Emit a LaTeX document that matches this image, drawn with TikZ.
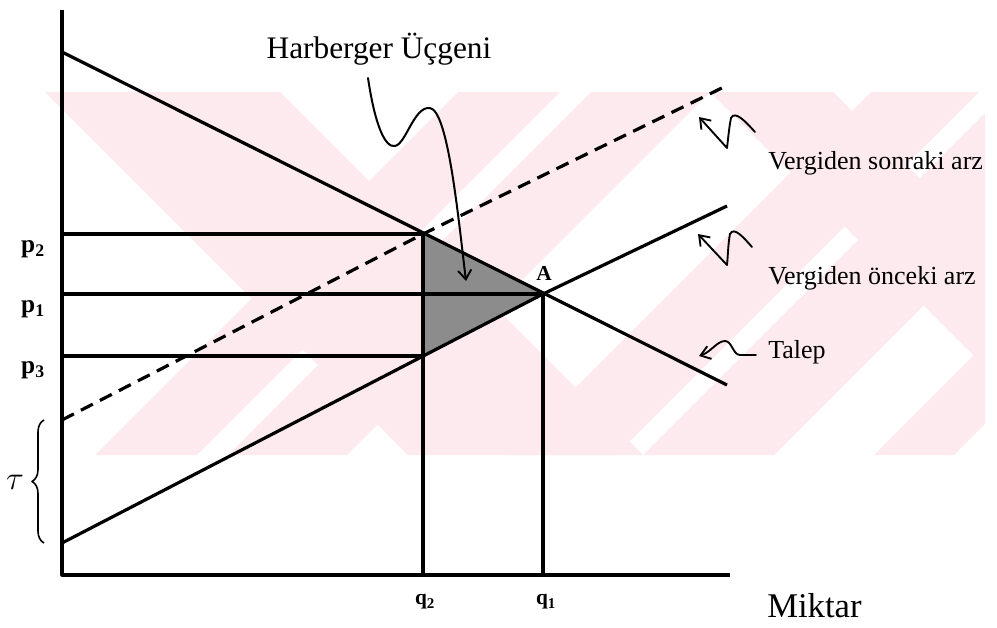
\documentclass[tikz,border=0pt]{standalone}
\usepackage{fontspec}
\setmainfont{Liberation Serif}
\usetikzlibrary{arrows.meta,decorations.pathreplacing}
\definecolor{wm}{RGB}{253,234,238}
\begin{document}
\begin{tikzpicture}[x=0.75pt,y=-0.75pt,line join=round,
  mainline/.style={line width=2.4pt},
  taxline/.style={line width=2.4pt,dash pattern=on 10pt off 6pt},
  note/.style={line width=1.4pt,line cap=round,-{Straight Barb[length=7pt,width=10pt,line width=1.4pt]}},
  lbl/.style={font=\fontsize{19.5}{22}\selectfont,inner sep=0pt},
  plbl/.style={font=\fontsize{19}{21}\selectfont\bfseries,inner sep=0pt},
  qlbl/.style={font=\fontsize{16}{18}\selectfont\bfseries,inner sep=0pt}]
\useasboundingbox (0,0) rectangle (997,628);
% faint watermark
\begin{scope}
\clip (45,92) rectangle (985,455);
\fill[wm] (45,92) -- (280,92) -- (643,455) -- (408,455) -- cycle;
\fill[wm] (710,92) -- (833,92) -- (1196,455) -- (1073,455) -- cycle;
\fill[wm] (458,92) -- (560,92) -- (197,455) -- (95,455) -- cycle;
\fill[wm] (591,92) -- (710,92) -- (347,455) -- (228,455) -- cycle;
\fill[wm] (871,92) -- (979,92) -- (616,455) -- (508,455) -- cycle;
\fill[wm] (1006,92) -- (1137,92) -- (774,455) -- (643,455) -- cycle;
\fill[wm] (1237,92) -- (1317,92) -- (954,455) -- (874,455) -- cycle;
\end{scope}
% key points
\coordinate (O) at (62,575);
\coordinate (Ytop) at (62,10);
\coordinate (Xend) at (730,575);
\coordinate (D0) at (62,52);
\coordinate (D1) at (727,385);
\coordinate (S0) at (62,543);
\coordinate (S1) at (727,206);
\coordinate (T0) at (62,420);
\coordinate (T1) at (728,85);
\coordinate (E2) at (423,234);
\coordinate (A) at (543,294);
\coordinate (E3) at (423,356);
\coordinate (P2) at (62,234);
\coordinate (P1) at (62,294);
\coordinate (P3) at (62,356);
\coordinate (Q2) at (423,575);
\coordinate (Q1) at (543,575);
% Harberger triangle
\fill[black!45] (E2) -- (A) -- (E3) -- cycle;
% axes
\draw[mainline] (Ytop) -- (O) -- (Xend);
% price and quantity guides
\draw[mainline] (P2) -- (E2);
\draw[mainline] (P1) -- (A);
\draw[mainline] (P3) -- (E3);
\draw[mainline] (E2) -- (Q2);
\draw[mainline] (A) -- (Q1);
% curves
\draw[mainline] (D0) -- (D1);
\draw[mainline] (S0) -- (A) -- (S1);
\draw[taxline] (T0) -- (E2) -- (T1);
% tau brace
\coordinate (Bb) at (44,543);
\coordinate (Bt) at (44,420);
\draw[line width=1.2pt,decorate,decoration={brace,amplitude=9pt}] (Bb) -- (Bt);
\node[inner sep=0pt,font=\fontsize{24}{24}\selectfont] (tau) at (15,482) {$\tau$};
% labels
\node[plbl] (lp2) at (33,249) {p\textsubscript{2}};
\node[plbl] (lp1) at (33,309) {p\textsubscript{1}};
\node[plbl] (lp3) at (33,370) {p\textsubscript{3}};
\node[qlbl] (lq2) at (425,602) {q\textsubscript{2}};
\node[qlbl] (lq1) at (546,602) {q\textsubscript{1}};
\node[inner sep=0pt,font=\fontsize{16}{18}\selectfont\bfseries] (lA) at (544,273) {A};
\node[inner sep=0pt,font=\fontsize{23.5}{26}\selectfont] (lh) at (379,49) {Harberger Üçgeni};
\node[lbl,anchor=west] (ls) at (768,163) {Vergiden sonraki arz};
\node[lbl,anchor=west] (lo) at (768,278) {Vergiden önceki arz};
\node[lbl,anchor=west] (lt) at (768,352) {Talep};
\node[inner sep=0pt,anchor=west,font=\fontsize{26}{28}\selectfont] (lm) at (767,606) {Miktar};
% annotation arrows
\coordinate (h0) at (368,78);
\coordinate (h1) at (466,281);
\draw[note,line width=1.5pt] (h0) .. controls (375,125) and (385,148) .. (395,146)
  .. controls (406,144) and (414,106) .. (430,108)
  .. controls (448,111) and (458,215) .. (h1);
\coordinate (s0) at (755,132);
\coordinate (s1) at (699,117);
\draw[note] (s0) .. controls (746,122) and (735,110) .. (731,118)
  .. controls (729,128) and (728,140) .. (727,148) -- (s1);
\coordinate (o0) at (752,247);
\coordinate (o1) at (698,234);
\draw[note] (o0) .. controls (744,238) and (734,226) .. (730,234)
  .. controls (728,244) and (728,256) .. (727,265) -- (o1);
\coordinate (t0) at (756,355);
\coordinate (t1) at (699,356);
\draw[note] (t0) -- (740,355) .. controls (733,355) and (732,341) .. (725,341)
  .. controls (717,341) and (711,352) .. (t1);
\end{tikzpicture}
\end{document}
